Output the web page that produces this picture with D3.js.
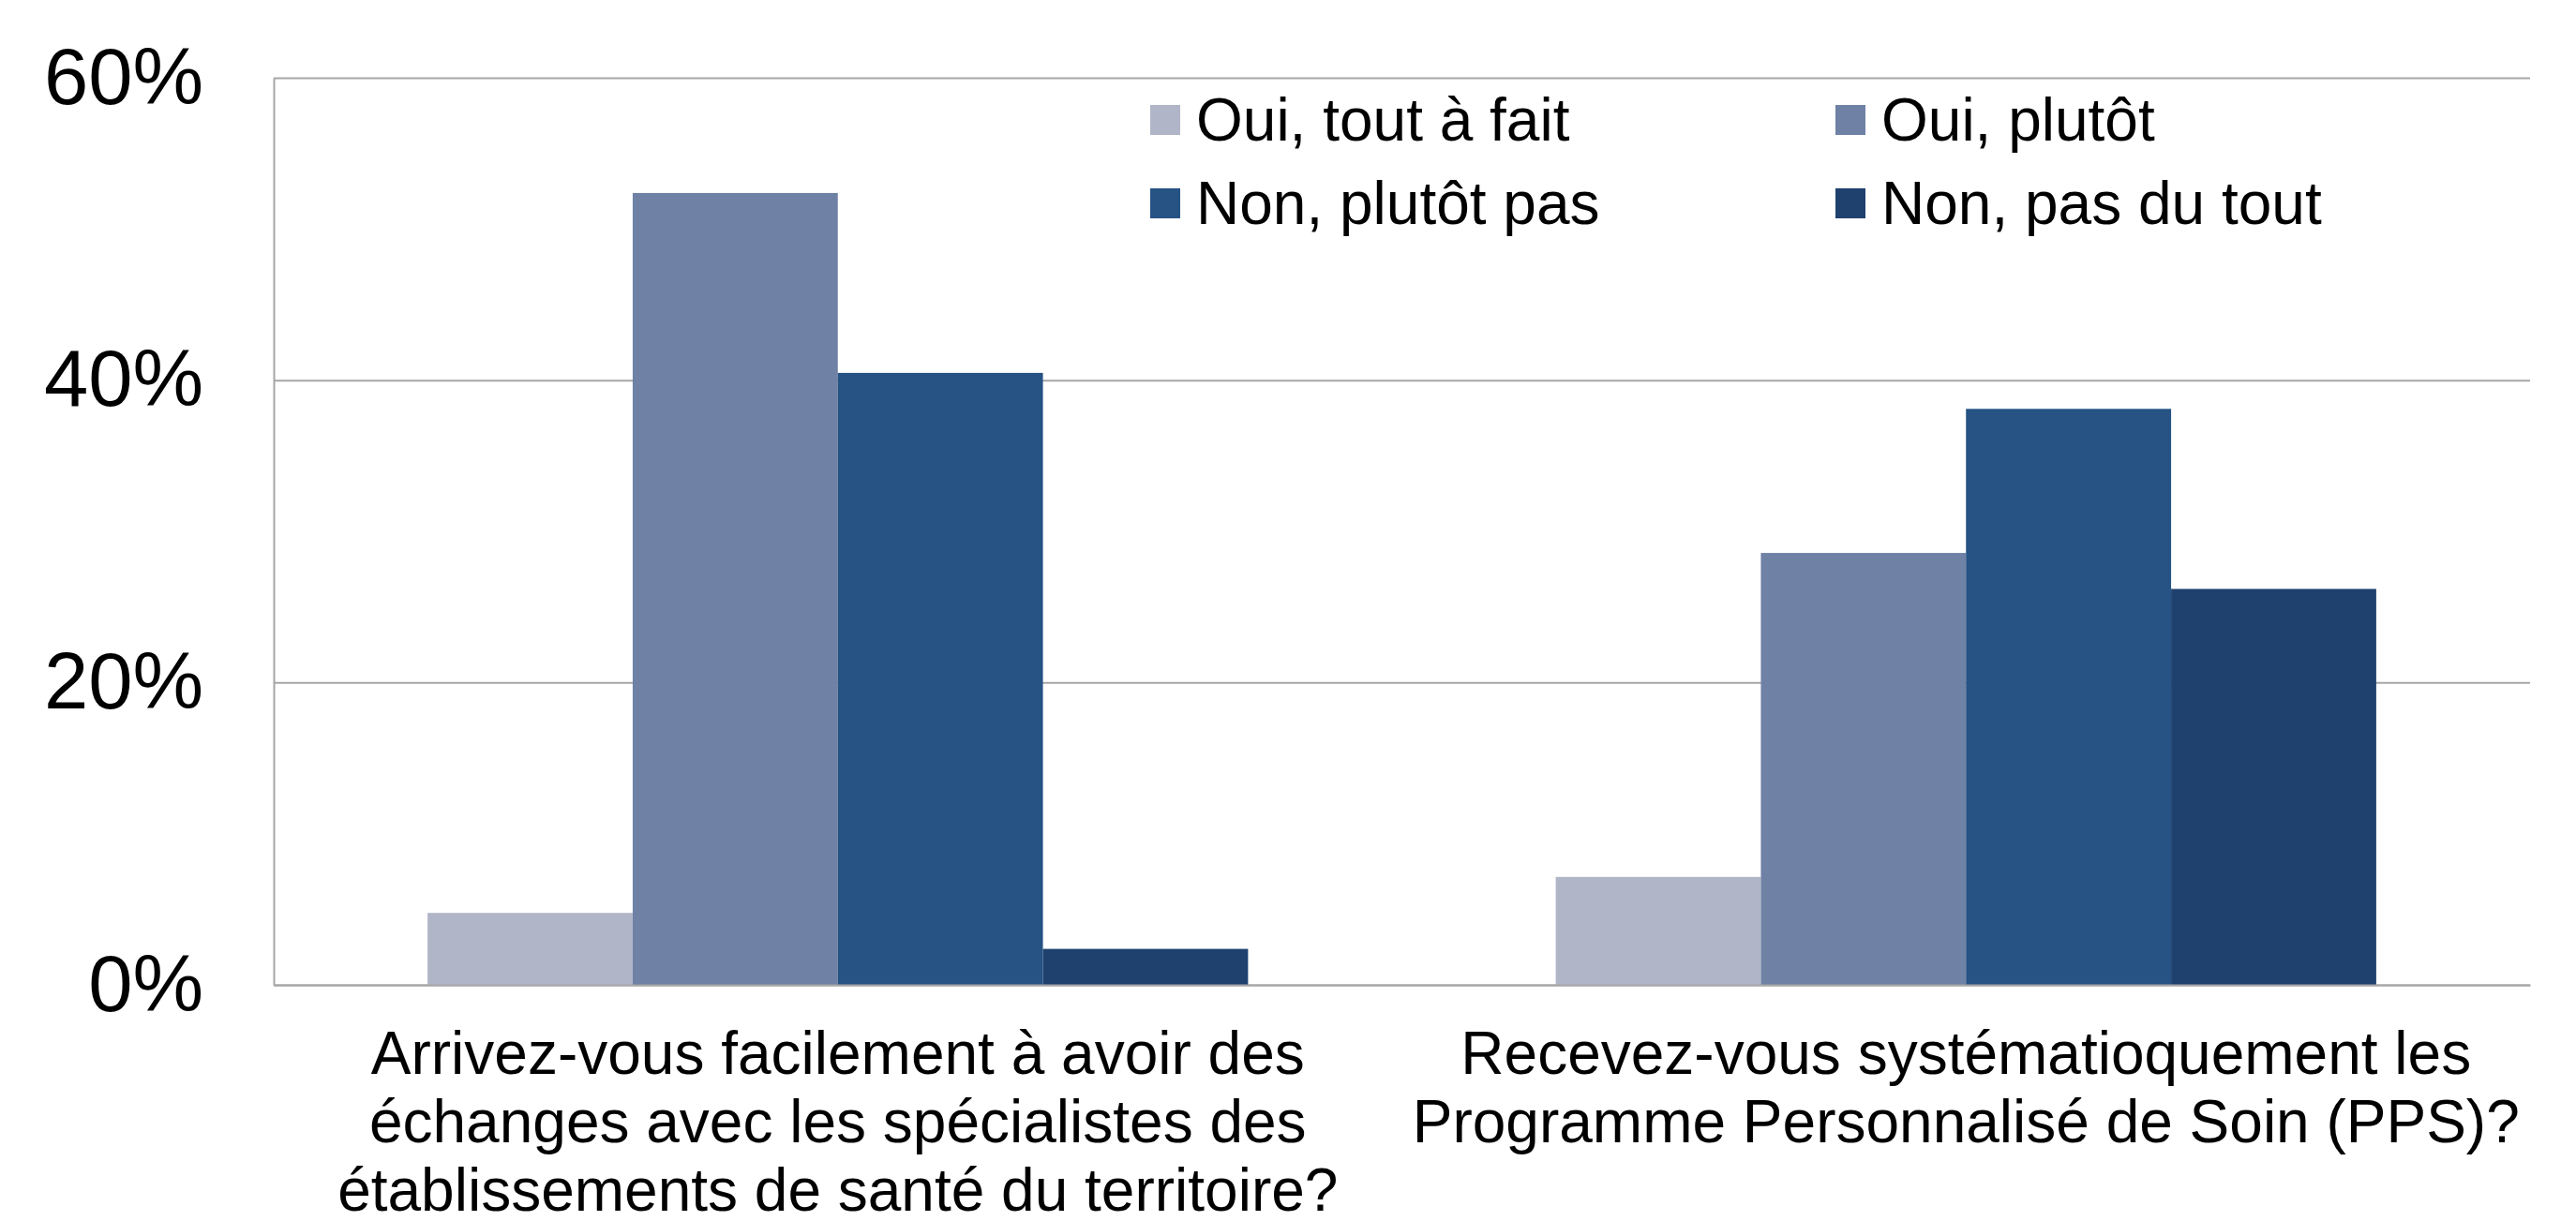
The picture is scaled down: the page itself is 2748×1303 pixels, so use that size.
<!DOCTYPE html>
<html>
<head>
<meta charset="utf-8">
<script src="https://cdn.jsdelivr.net/npm/d3@7"></script>
<style>
  body { margin: 0; background: #fff; }
  text { font-family: "Liberation Sans", Arial, sans-serif; fill: #000; }
</style>
</head>
<body>
<script>
// data (share of 42 answers)
var categories = ["q1", "q2"];
var categoryLines = [
	["Arrivez-vous facilement à avoir des", "échanges avec les spécialistes des", "établissements de santé du territoire?"],
	["Recevez-vous systématioquement les", "Programme Personnalisé de Soin (PPS)?"]
];
var seriesNames = ["Oui, tout à fait", "Oui, plutôt", "Non, plutôt pas", "Non, pas du tout"];
var seriesColors = ["#b0b6c8", "#6f81a5", "#265284", "#1e416e"];
var values = [
	[0.0476, 0.5238, 0.4048, 0.0238],
	[0.0714, 0.2857, 0.3810, 0.2619]
];
var yTicks = [0, 0.2, 0.4, 0.6];

var totalWidth = 2748,
	totalHeight = 1303,
	margin = {top: 83, right: 49, bottom: 252, left: 292},
	dataWidth = totalWidth - margin.left - margin.right,
	dataHeight = totalHeight - margin.top - margin.bottom;

var svg = d3.select("body").append("svg")
	.attr("width", totalWidth)
	.attr("height", totalHeight);

var g = svg.append("g")
	.attr("transform", "translate(" + margin.left + "," + margin.top + ")");

var x0 = d3.scaleBand()
	.domain(categories)
	.range([0, dataWidth]);

// gap of 150% of a bar on each group
var x1 = d3.scaleBand()
	.domain(seriesNames)
	.range([0, x0.bandwidth()])
	.paddingOuter(0.75);

var yScale = d3.scaleLinear()
	.domain([0, 0.6])
	.range([dataHeight, 0]);

// y axis with gridlines
var yAxis = d3.axisLeft(yScale)
	.tickValues(yTicks)
	.tickFormat(d3.format(".0%"))
	.tickSizeInner(-dataWidth)
	.tickSizeOuter(0)
	.tickPadding(75);

var yG = g.append("g").call(yAxis);
yG.select(".domain").attr("stroke", "#a6a6a6").attr("stroke-width", 2);
yG.selectAll(".tick line").attr("stroke", "#a6a6a6").attr("stroke-width", 2);
yG.selectAll(".tick text")
	.style("font-size", "85px")
	.attr("dy", "0.32em")
	.attr("fill", "#000");

// bars
var groups = g.selectAll(".group")
	.data(values)
	.enter().append("g")
	.attr("class", "group")
	.attr("transform", (d, i) => "translate(" + x0(categories[i]) + ",0)");

groups.selectAll("rect")
	.data(d => d)
	.enter().append("rect")
	.attr("x", (d, j) => x1(seriesNames[j]))
	.attr("y", d => yScale(d))
	.attr("width", x1.bandwidth())
	.attr("height", d => dataHeight - yScale(d))
	.attr("fill", (d, j) => seriesColors[j]);

// x axis line
var xAxis = d3.axisBottom(x0).tickSize(0).tickFormat("");
var xG = g.append("g")
	.attr("transform", "translate(0," + dataHeight + ")")
	.call(xAxis);
xG.select(".domain").attr("stroke", "#a6a6a6").attr("stroke-width", 2);

// category labels
var labels = g.selectAll(".cat-label")
	.data(categoryLines)
	.enter().append("text")
	.attr("class", "cat-label")
	.attr("text-anchor", "middle")
	.style("font-size", "64px");

labels.selectAll("tspan")
	.data((d, i) => d.map(line => ({line: line, cat: categories[i]})))
	.enter().append("tspan")
	.attr("x", d => x0(d.cat) + x0.bandwidth() / 2)
	.attr("y", (d, k) => dataHeight + 95 + k * 73)
	.text(d => d.line);

// legend, two columns
var legend = svg.append("g")
	.attr("transform", "translate(1227,128)");

var item = legend.selectAll(".item")
	.data(seriesNames)
	.enter().append("g")
	.attr("class", "item")
	.attr("transform", (d, i) => "translate(" + (i % 2) * 731 + "," + Math.floor(i / 2) * 89 + ")");

item.append("rect")
	.attr("x", 0)
	.attr("y", -16)
	.attr("width", 32)
	.attr("height", 32)
	.attr("fill", (d, i) => seriesColors[i]);

item.append("text")
	.attr("x", 49)
	.attr("y", 0)
	.attr("dy", "0.35em")
	.style("font-size", "64px")
	.text(d => d);
</script>
</body>
</html>
